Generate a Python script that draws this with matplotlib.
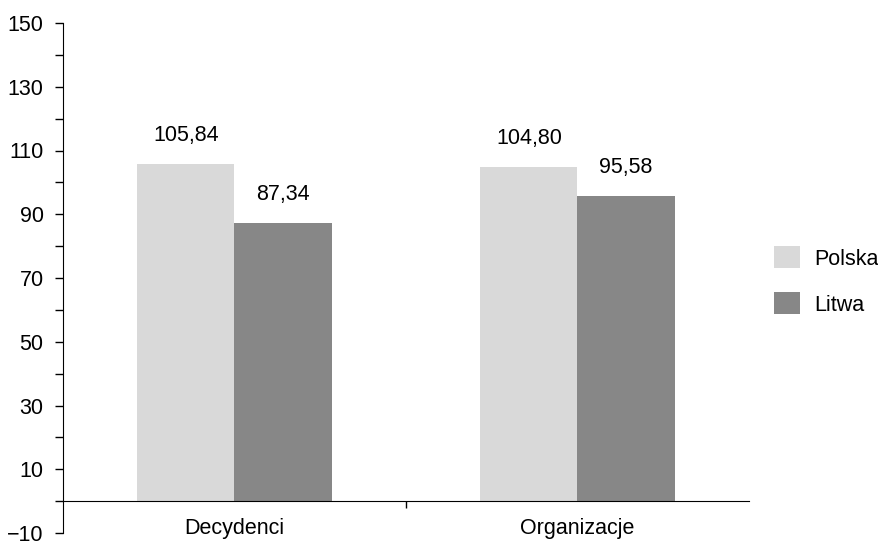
import matplotlib.pyplot as plt
from matplotlib.patches import Patch
import numpy as np

# grupy i wartości wskaźnika
categories = ["Decydenci", "Organizacje"]
series_names = ["Polska", "Litwa"]
polska = [105.84, 104.80]
litwa = [87.34, 95.58]
colors = ["#d9d9d9", "#878787"]

plt.rcParams["font.family"] = ["Liberation Sans", "DejaVu Sans"]
plt.rcParams["font.size"] = 15.5

fig = plt.figure(figsize=(8.79, 5.46), dpi=100)
ax = fig.add_axes([63 / 879, 13 / 546, 686 / 879, 510 / 546])

x = np.arange(len(categories))
w = 0.283
for vals, off, col in [(polska, -w / 2, colors[0]), (litwa, w / 2, colors[1])]:
    bars = ax.bar(x + off, vals, width=w, color=col, linewidth=0)
    for b, v in zip(bars, vals):
        ax.annotate(f"{v:.2f}".replace(".", ","), (b.get_x() + b.get_width() / 2, v),
                    xytext=(0, 13), textcoords="offset points", ha="center", va="bottom")

ax.set_xlim(-0.5, 1.5)
ax.set_ylim(-10, 150)

ax.spines["top"].set_visible(False)
ax.spines["right"].set_visible(False)
ax.spines["bottom"].set_position(("data", 0))

# osie: etykiety co 20, kreski co 10
ax.set_yticks(np.arange(-10, 151, 20))
ax.set_yticks(np.arange(0, 151, 20), minor=True)
ax.tick_params(axis="y", which="both", length=6, width=1, pad=8)

ax.set_xticks([0.5])
ax.set_xticklabels([""])
ax.set_xticks(x, minor=True)
ax.set_xticklabels(categories, minor=True)
ax.tick_params(axis="x", which="major", length=5, width=1)
ax.tick_params(axis="x", which="minor", length=0, pad=12)

handles = [Patch(color=c, linewidth=0) for c in colors]
fig.legend(handles, series_names, loc="center left", bbox_to_anchor=(763 / 879, 1 - 281 / 546),
           frameon=False, borderpad=0, handlelength=1.2, handleheight=1.2,
           handletextpad=0.7, labelspacing=1.05)

fig.savefig("out.png", dpi=100)
